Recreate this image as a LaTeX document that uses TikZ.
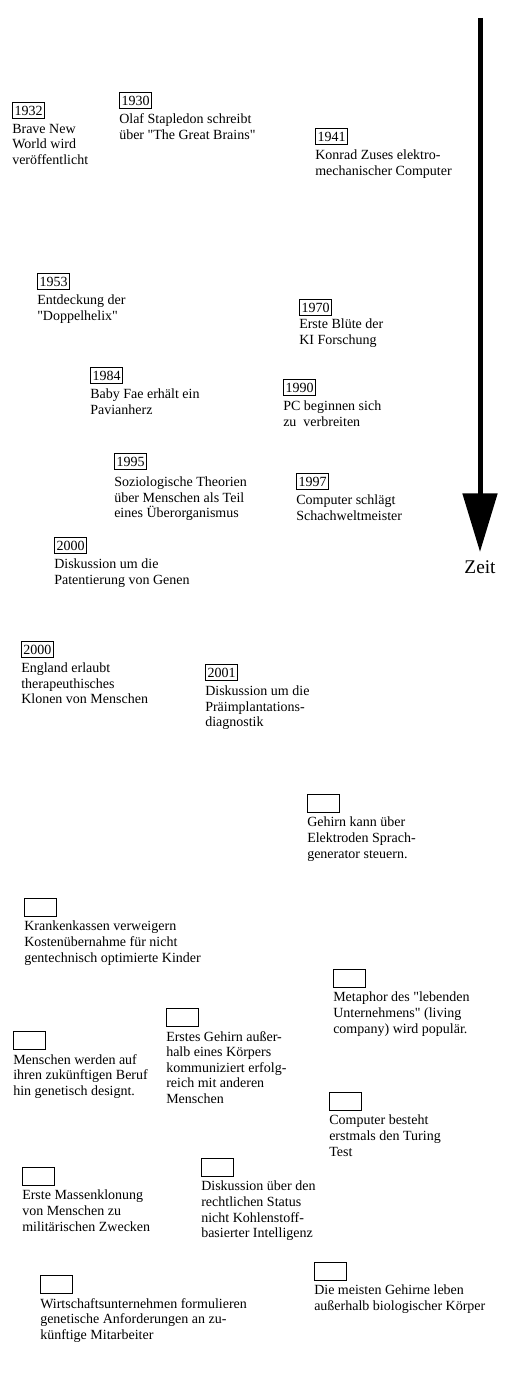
\documentclass[tikz,border=0pt]{standalone}
\usepackage{fontspec}
\setmainfont{Liberation Serif}
\usepackage{tikz}
\usetikzlibrary{arrows.meta,positioning}

\begin{document}
\begin{tikzpicture}[x=0.75pt,y=-0.75pt,
    year/.style={draw,line width=0.75pt,inner sep=0pt,minimum width=24pt,minimum height=12pt,anchor=north west,font=\fontsize{10.5}{11.7}\selectfont},
    blank/.style={year,minimum height=13.5pt},
    note/.style={inner sep=0pt,align=left,font=\fontsize{10.5}{11.7}\selectfont,execute at begin node=\strut},
    timearrow/.style={line width=3.75pt,-{Triangle[length=44pt,width=25.5pt]}}
]
\useasboundingbox (0,0) rectangle (509,1388);

% time axis
\coordinate (top) at (480,18);
\coordinate (tip) at (480,552);
\draw[timearrow] (top) -- (tip);
\node[inner sep=0pt,font=\fontsize{14.5}{17}\selectfont,below=6pt of tip] (zeit) {Zeit};

% past
\node[year] (y1932) at (12,102) {1932};
\node[note,below=3.5pt of y1932.south west,anchor=north west] (t1932) {Brave New\\World wird\\veröffentlicht};
\node[year] (y1930) at (119,92) {1930};
\node[note,below=3.5pt of y1930.south west,anchor=north west] (t1930) {Olaf Stapledon schreibt\\über \textquotedbl The Great Brains\textquotedbl};
\node[year] (y1941) at (315,128) {1941};
\node[note,below=3.5pt of y1941.south west,anchor=north west] (t1941) {Konrad Zuses elektro-\\mechanischer Computer};
\node[year] (y1953) at (37,273) {1953};
\node[note,below=3.5pt of y1953.south west,anchor=north west] (t1953) {Entdeckung der\\\textquotedbl Doppelhelix\textquotedbl};
\node[year] (y1970) at (299,299) {1970};
\node[note,below=2pt of y1970.south west,anchor=north west] (t1970) {Erste Blüte der\\KI Forschung};
\node[year] (y1984) at (90,367) {1984};
\node[note,below=3.5pt of y1984.south west,anchor=north west] (t1984) {Baby Fae erhält ein\\Pavianherz};
\node[year] (y1990) at (283,379) {1990};
\node[note,below=3.5pt of y1990.south west,anchor=north west] (t1990) {PC beginnen sich\\zu~~verbreiten};
\node[year] (y1995) at (114,453) {1995};
\node[note,below=5pt of y1995.south west,anchor=north west] (t1995) {Soziologische Theorien\\über Menschen als Teil\\eines Überorganismus};
\node[year] (y1997) at (296,473) {1997};
\node[note,below=3.5pt of y1997.south west,anchor=north west] (t1997) {Computer schlägt\\Schachweltmeister};
\node[year] (y2000a) at (54,537) {2000};
\node[note,below=3.5pt of y2000a.south west,anchor=north west] (t2000a) {Diskussion um die\\Patentierung von Genen};
\node[year] (y2000b) at (21,641) {2000};
\node[note,below=3.5pt of y2000b.south west,anchor=north west] (t2000b) {England erlaubt\\therapeuthisches\\Klonen von Menschen};
\node[year] (y2001) at (205,664) {2001};
\node[note,below=3.5pt of y2001.south west,anchor=north west] (t2001) {Diskussion um die\\Präimplantations-\\diagnostik};

% future
\node[blank] (f1) at (307,794) {};
\node[note,below=3pt of f1.south west,anchor=north west] (n1) {Gehirn kann über\\Elektroden Sprach-\\generator steuern.};
\node[blank] (f2) at (24,898) {};
\node[note,below=3pt of f2.south west,anchor=north west] (n2) {Krankenkassen verweigern\\Kostenübernahme für nicht\\gentechnisch optimierte Kinder};
\node[blank] (f3) at (333,969) {};
\node[note,below=3pt of f3.south west,anchor=north west] (n3) {Metaphor des \textquotedbl lebenden\\Unternehmens\textquotedbl{} (living\\company) wird populär.};
\node[blank] (f4) at (166,1008) {};
\node[note,below=3pt of f4.south west,anchor=north west] (n4) {Erstes Gehirn außer-\\halb eines Körpers\\kommuniziert erfolg-\\reich mit anderen\\Menschen};
\node[blank] (f5) at (13,1031) {};
\node[note,below=3pt of f5.south west,anchor=north west] (n5) {Menschen werden auf\\ihren zukünftigen Beruf\\hin genetisch designt.};
\node[blank] (f6) at (329,1092) {};
\node[note,below=3pt of f6.south west,anchor=north west] (n6) {Computer besteht\\erstmals den Turing\\Test};
\node[blank] (f7) at (22,1167) {};
\node[note,below=3pt of f7.south west,anchor=north west] (n7) {Erste Massenklonung\\von Menschen zu\\militärischen Zwecken};
\node[blank] (f8) at (201,1158) {};
\node[note,below=3pt of f8.south west,anchor=north west] (n8) {Diskussion über den\\rechtlichen Status\\nicht Kohlenstoff-\\basierter Intelligenz};
\node[blank] (f9) at (314,1262) {};
\node[note,below=3pt of f9.south west,anchor=north west] (n9) {Die meisten Gehirne leben\\außerhalb biologischer Körper};
\node[blank] (f10) at (40,1275) {};
\node[note,below=3pt of f10.south west,anchor=north west] (n10) {Wirtschaftsunternehmen formulieren\\genetische Anforderungen an zu-\\künftige Mitarbeiter};
\end{tikzpicture}
\end{document}
